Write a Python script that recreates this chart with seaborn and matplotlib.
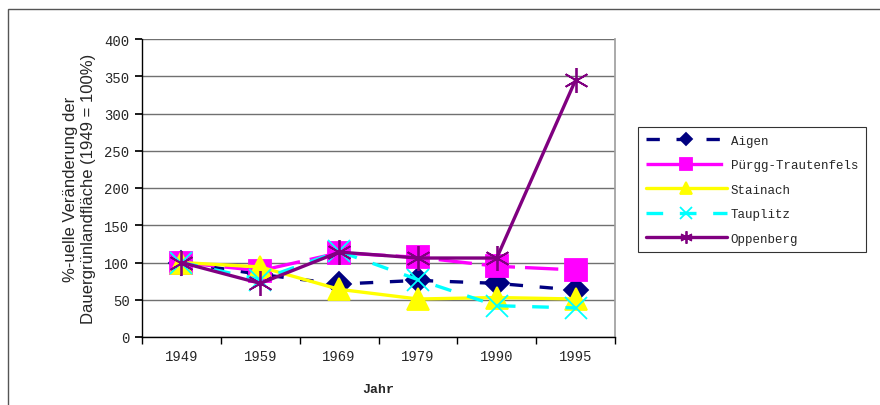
import pandas as pd
import seaborn as sns
import matplotlib.pyplot as plt
from matplotlib.patches import Rectangle

years = ['1949', '1959', '1969', '1979', '1990', '1995']
aigen = [100, 84, 71, 76, 72, 63]
puergg = [100, 89, 113, 107, 95, 90]
stainach = [100, 94, 64, 51, 53, 51]
tauplitz = [100, 77, 115, 77, 42, 39]
oppenberg = [100, 72, 114, 106, 106, 345]

names = ['Aigen', 'Pürgg-Trautenfels', 'Stainach', 'Tauplitz', 'Oppenberg']
series = [aigen, puergg, stainach, tauplitz, oppenberg]

df = pd.DataFrame({'Jahr': years * len(names),
                   'Wert': sum(series, []),
                   'Ort': [n for n in names for _ in years]})

colors = ['#000080', '#FF00FF', '#FFFF00', '#00FFFF', '#800080']
markers = ['D', 's', '^', 'x', (6, 2, 0)]
msizes = [12, 16, 16, 16, 18]
dashes = [(4, 5), (10, 3), (), (5, 5), ()]

sns.set_theme(style='white')
plt.rcParams['font.family'] = ['Liberation Mono', 'DejaVu Sans']

fig = plt.figure(figsize=(8.8, 4.06), dpi=100)
ax = fig.add_axes([142 / 880, 1 - 338 / 406, (615 - 142) / 880, (338 - 40) / 406])

for i, n in enumerate(names):
    sub = df[df['Ort'] == n]
    sns.lineplot(data=sub, x='Jahr', y='Wert', ax=ax, color=colors[i], sort=False,
                 linewidth=2.4, label=n, marker=markers[i], markersize=msizes[i],
                 markeredgecolor=colors[i], markeredgewidth=1.3,
                 dashes=False, linestyle='-')
    ln = ax.lines[-1]
    if dashes[i]:
        ln.set_dashes(dashes[i])

ax.set_ylim(0, 400)
ax.set_yticks(range(0, 401, 50))
ax.set_xlim(-0.5, len(years) - 0.5)
ax.yaxis.grid(True, color='#707070', linewidth=1)
ax.set_axisbelow(True)
ax.spines['top'].set_visible(False)
ax.spines['right'].set_color('#a0a0a0')
ax.spines['left'].set_color('black')
ax.spines['bottom'].set_color('black')
ax.spines['left'].set_linewidth(1)
ax.spines['bottom'].set_linewidth(1)

ax.set_xticks(range(len(years)))
ax.set_xticklabels(years, fontsize=10)
ax.set_xticks([x - 0.5 for x in range(len(years) + 1)], minor=True)
ax.tick_params(axis='x', which='major', length=0, pad=9)
ax.tick_params(axis='x', which='minor', length=5, direction='out', color='black', bottom=True)
ax.tick_params(axis='y', length=5, direction='out', color='black', left=True, labelsize=10, pad=4)

ax.set_xlabel('Jahr', fontweight='bold', fontsize=9.5, labelpad=14)
ax.set_ylabel('%-uelle Veränderung der\nDauergrünlandfläche (1949 = 100%)',
              family=['Liberation Sans', 'DejaVu Sans'], fontsize=12, labelpad=6,
              linespacing=1.25)

leg = ax.legend(loc='upper left', bbox_to_anchor=(632 / 880, 1 - 122 / 406),
                bbox_transform=fig.transFigure, frameon=True, fancybox=False,
                fontsize=9, handlelength=6.5, labelspacing=1.0, borderpad=0.6,
                handletextpad=0.3, markerscale=0.5)
leg.get_frame().set_edgecolor('black')
leg.get_frame().set_linewidth(0.8)

fig.patches.append(Rectangle((8 / 880, -0.02), 1.0, 1 - 10 / 406 + 0.02,
                             transform=fig.transFigure, fill=False,
                             edgecolor='#555555', linewidth=1))

plt.savefig('out.png', dpi=100)
